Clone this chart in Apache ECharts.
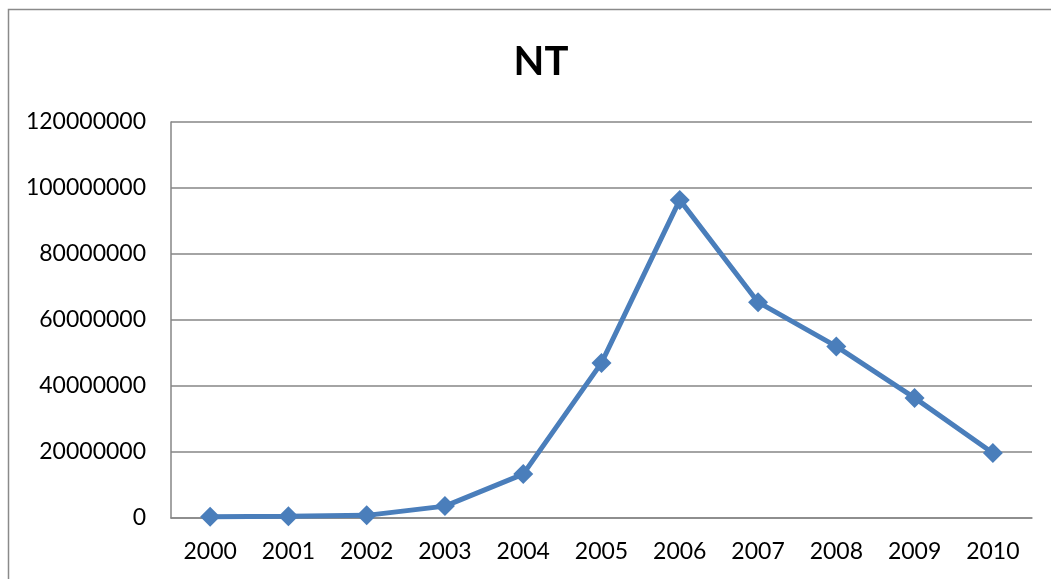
<!DOCTYPE html>
<html><head><meta charset="utf-8">
<script src="https://cdn.jsdelivr.net/npm/echarts@6/dist/echarts.min.js"></script>
<style>html,body{margin:0;padding:0;background:#fff}#c{width:1051px;height:579px}</style>
</head><body><div id="c"></div>
<script>
const categories = ['2000','2001','2002','2003','2004','2005','2006','2007','2008','2009','2010'];
const ntValues = [400000, 500000, 800000, 3600000, 13300000, 47000000, 96400000, 65400000, 52000000, 36400000, 19700000];
const titleText = 'NT';

const chart = echarts.init(document.getElementById('c'));
chart.setOption({
  animation: false,
  backgroundColor: '#fff',
  title: { text: titleText, left: 536, top: 37, textAlign: 'center',
    textStyle: { fontFamily: 'Lato', fontWeight: 'bold', fontSize: 40, color: '#000' } },
  graphic: [{ type: 'rect', shape: { x: 8.5, y: 9.5, width: 1100, height: 700 },
    style: { fill: 'none', stroke: '#8a8a8a', lineWidth: 1.5 }, silent: true }],
  grid: { left: 171, top: 122, right: 19, bottom: 61 },
  xAxis: { type: 'category', data: categories, boundaryGap: true,
    axisLine: { show: true, lineStyle: { color: '#868686', width: 1.5 } },
    axisTick: { show: false },
    axisLabel: { color: '#000', fontFamily: 'Lato', fontSize: 23, margin: 22 } },
  yAxis: { type: 'value', min: 0, max: 120000000, interval: 20000000,
    axisLine: { show: true, lineStyle: { color: '#868686', width: 1.5 } },
    axisTick: { show: false },
    splitLine: { lineStyle: { color: '#868686', width: 1.5 } },
    axisLabel: { color: '#000', fontFamily: 'Lato', fontSize: 23, margin: 25,
      formatter: v => String(v) } },
  series: [{ type: 'line', data: ntValues, symbol: 'diamond', symbolSize: 20,
    lineStyle: { color: '#4A7EBB', width: 5 },
    itemStyle: { color: '#4A7EBB' } }]
});
</script></body></html>
